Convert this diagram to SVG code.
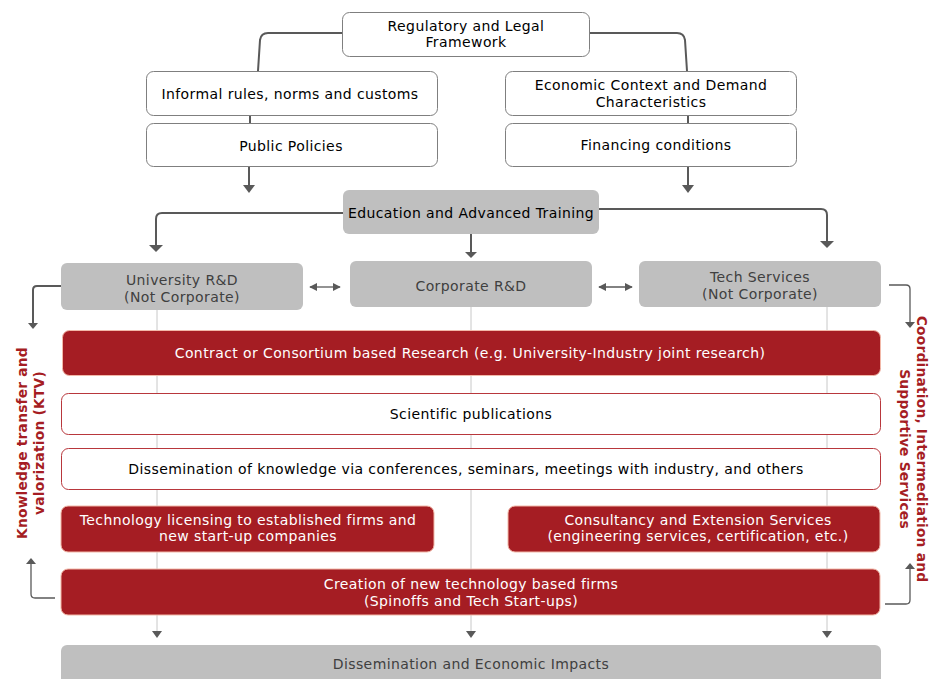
<svg xmlns="http://www.w3.org/2000/svg" width="930" height="679" viewBox="0 0 930 679">
<defs>
<style>
text{font-family:"DejaVu Sans","Liberation Sans",sans-serif;font-size:14px;letter-spacing:0.4px;text-anchor:middle}
.wb{fill:#fff;stroke:#7f7f7f;stroke-width:1}
.gb{fill:#bfbfbf;stroke:none}
.rb{fill:#a51d23;stroke:#f2b8a8;stroke-width:1}
.rw{fill:#fff;stroke:#b8373c;stroke-width:1}
.tk{fill:#000}
.tg{fill:#404040}
.tw{fill:#fff}
.side{fill:#a51d23;font-weight:bold;font-size:13.8px;letter-spacing:0.2px}
.c{fill:none;stroke:#595959;stroke-width:2}
.c1{fill:none;stroke:#595959;stroke-width:1.3}
.v{fill:none;stroke:#c8c8c8;stroke-width:1}
</style>
<marker id="as" viewBox="0 0 10 10" refX="9" refY="5" markerWidth="8" markerHeight="8" markerUnits="userSpaceOnUse" orient="auto-start-reverse">
<path d="M0,0 L10,5 L0,10 Z" fill="#595959"/>
</marker>
</defs>
<rect width="930" height="679" fill="#fff"/>

<g id="connectors">
<path class="v" d="M157,310 V632"/>
<path class="v" d="M471,307 V632"/>
<path class="v" d="M827,307 V632"/>
<path d="M152,631 H162 L157,638 Z" fill="#595959"/>
<path d="M466,631 H476 L471,638 Z" fill="#595959"/>
<path d="M822,631 H832 L827,638 Z" fill="#595959"/>
<path class="c" d="M342,33 H268 Q261,33 260,40 L258,71"/>
<path class="c" d="M589,33 H677 Q684,33 685,40 L687,71"/>
<path class="c" d="M250,116 V123"/>
<path class="c" d="M688,116 V123"/>
<path class="c" d="M249,167 V187"/>
<path d="M243,185 H255 L249,193 Z" fill="#595959"/>
<path class="c" d="M688,167 V187"/>
<path d="M682,185 H694 L688,193 Z" fill="#595959"/>
<path class="c" d="M343,213 H162 Q156,213 156,219 V246"/>
<path d="M149,245 H163 L156,252 Z" fill="#595959"/>
<path class="c" d="M471,234 V253"/>
<path d="M465,252 H477 L471,258 Z" fill="#595959"/>
<path class="c" d="M599,209 H821 Q827,209 827,215 V242"/>
<path d="M820,241 H834 L827,248 Z" fill="#595959"/>
<path class="c1" d="M310,287 H340" marker-start="url(#as)" marker-end="url(#as)"/>
<path class="c1" d="M599,287 H632" marker-start="url(#as)" marker-end="url(#as)"/>
<path class="c" d="M61,286 H37 Q33,286 33,290 V324"/>
<path d="M28,323 H38 L33,329 Z" fill="#595959"/>
<path class="c1" d="M889,285 H906 Q910,285 910,289 V323"/>
<path d="M905,322 H915 L910,328 Z" fill="#595959"/>
<path class="c1" d="M55,598 H35 Q31,598 31,594 V563"/>
<path d="M26,564 H36 L31,558 Z" fill="#595959"/>
<path class="c1" d="M885,604 H906 Q910,604 910,600 V568"/>
<path d="M905,569 H915 L910,563 Z" fill="#595959"/>
</g>

<g id="n-regulatory"><rect class="wb" x="342.5" y="12.5" width="247" height="44" rx="7"/><text class="tk" x="466" y="31">Regulatory and Legal</text><text class="tk" x="466" y="47">Framework</text></g>
<g id="n-informal"><rect class="wb" x="146.5" y="71.5" width="291" height="44" rx="7"/><text class="tk" x="290" y="99">Informal rules, norms and customs</text></g>
<g id="n-public"><rect class="wb" x="146.5" y="123.5" width="291" height="43" rx="7"/><text class="tk" x="291" y="151">Public Policies</text></g>
<g id="n-economic"><rect class="wb" x="505.5" y="71.5" width="291" height="44" rx="7"/><text class="tk" x="651" y="90">Economic Context and Demand</text><text class="tk" x="651" y="107">Characteristics</text></g>
<g id="n-financing"><rect class="wb" x="505.5" y="123.5" width="291" height="43" rx="7"/><text class="tk" x="656" y="150">Financing conditions</text></g>
<g id="n-education"><rect class="gb" x="343" y="190" width="256" height="44" rx="6"/><text class="tk" x="471" y="218">Education and Advanced Training</text></g>
<g id="n-university"><rect class="gb" x="61" y="263" width="242" height="47" rx="6"/><text class="tg" x="182" y="285">University R&amp;D</text><text class="tg" x="182" y="302">(Not Corporate)</text></g>
<g id="n-corporate"><rect class="gb" x="350" y="261" width="242" height="46" rx="6"/><text class="tg" x="471" y="291">Corporate R&amp;D</text></g>
<g id="n-tech"><rect class="gb" x="639" y="261" width="242" height="46" rx="6"/><text class="tg" x="760" y="282">Tech Services</text><text class="tg" x="760" y="299">(Not Corporate)</text></g>
<g id="n-contract"><rect class="rb" x="62.5" y="330.5" width="818" height="45" rx="7"/><text class="tw" x="470" y="358">Contract or Consortium based Research (e.g. University-Industry joint research)</text></g>
<g id="n-scientific"><rect class="rw" x="61.5" y="393.5" width="819" height="41" rx="7"/><text class="tk" x="471" y="419">Scientific publications</text></g>
<g id="n-dissemination-knowledge"><rect class="rw" x="61.5" y="448.5" width="819" height="41" rx="7"/><text class="tk" x="466" y="474">Dissemination of knowledge via conferences, seminars, meetings with industry, and others</text></g>
<g id="n-licensing"><rect class="rb" x="61" y="506" width="373" height="46" rx="7" stroke="none"/><text class="tw" x="248" y="525">Technology licensing to established firms and</text><text class="tw" x="248" y="541">new start-up companies</text></g>
<g id="n-consultancy"><rect class="rb" x="508" y="506" width="372" height="46" rx="7" stroke="none"/><text class="tw" x="698" y="525">Consultancy and Extension Services</text><text class="tw" x="698" y="541">(engineering services, certification, etc.)</text></g>
<g id="n-creation"><rect class="rb" x="61" y="569" width="819" height="46" rx="7" stroke="none"/><text class="tw" x="471" y="589">Creation of new technology based firms</text><text class="tw" x="471" y="606">(Spinoffs and Tech Start-ups)</text></g>
<g id="n-impacts"><rect class="gb" x="61" y="645" width="820" height="50" rx="6"/><text class="tg" x="471" y="669">Dissemination and Economic Impacts</text></g>

<g id="label-ktv" transform="translate(30,443) rotate(-90)"><text class="side" x="0" y="-3">Knowledge transfer and</text><text class="side" x="0" y="14">valorization (KTV)</text></g>
<g id="label-coord" transform="translate(912,449) rotate(90)"><text class="side" x="0" y="-5">Coordination, Intermediation and</text><text class="side" x="0" y="12">Supportive Services</text></g>
</svg>
